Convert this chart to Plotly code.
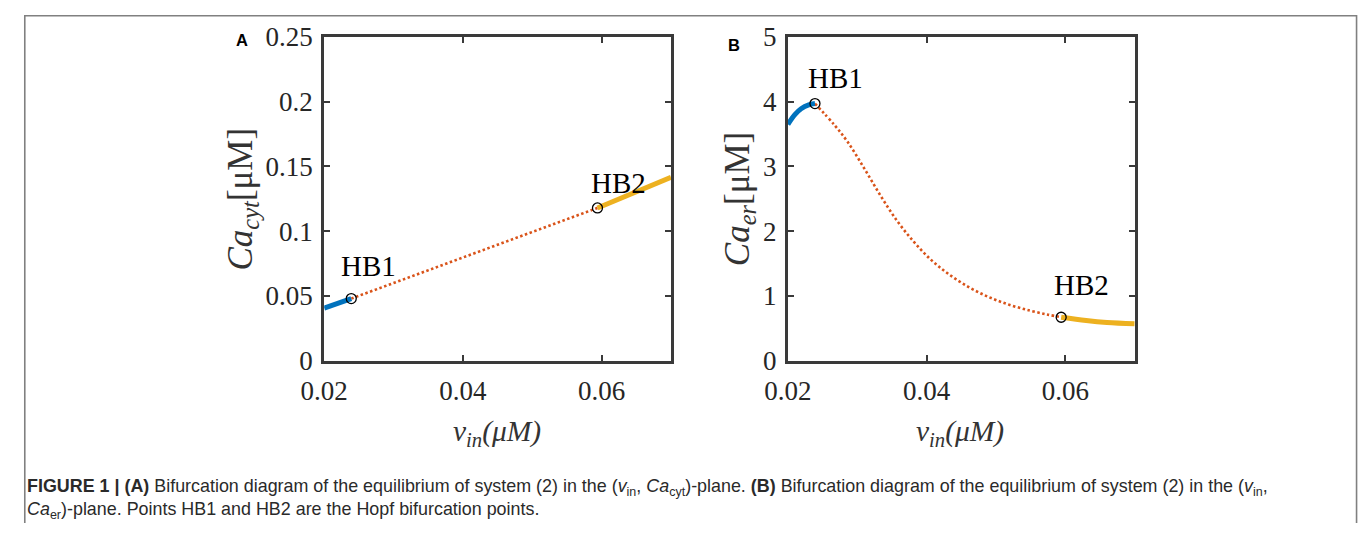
import plotly.graph_objects as go

W, H = 1362, 538

# ---- Panel A data (v_in, Ca_cyt) ----
a_stable1_v = [0.02, 0.0239]
a_stable1_c = [0.0405, 0.0479]
a_unstable_v = [0.0239, 0.0594]
a_unstable_c = [0.0479, 0.1179]
a_stable2_v = [0.0594, 0.07]
a_stable2_c = [0.1179, 0.1415]
a_hopf_v = [0.0239, 0.0594]
a_hopf_c = [0.0479, 0.1179]

# ---- Panel B data (v_in, Ca_er) ----
b_stable1_v = [0.02, 0.0210, 0.0219, 0.0230, 0.0239]
b_stable1_c = [3.65, 3.80, 3.89, 3.95, 3.97]
b_unstable_v = [0.0239, 0.0267, 0.0286, 0.0310, 0.0334, 0.0358, 0.0382, 0.0406,
                0.0430, 0.0460, 0.0490, 0.0520, 0.0550, 0.0575, 0.0594]
b_unstable_c = [3.97, 3.64, 3.38, 2.97, 2.54, 2.15, 1.83, 1.56,
                1.35, 1.14, 0.98, 0.86, 0.77, 0.71, 0.67]
b_stable2_v = [0.0594, 0.063, 0.066, 0.07]
b_stable2_c = [0.67, 0.62, 0.59, 0.57]
b_hopf_v = [0.0239, 0.0594]
b_hopf_c = [3.97, 0.67]

x_ticks = [0.02, 0.04, 0.06]
x_ticklabels = ["0.02", "0.04", "0.06"]
a_yticks = [0, 0.05, 0.1, 0.15, 0.2, 0.25]
a_yticklabels = ["0", "0.05", "0.1", "0.15", "0.2", "0.25"]
b_yticks = [0, 1, 2, 3, 4, 5]
b_yticklabels = ["0", "1", "2", "3", "4", "5"]

BLUE = "#0072BD"
RED = "#D95319"
YEL = "#EDB120"
AX = "#3a3a3a"
SERIF = "Liberation Serif, Times New Roman, serif"
SANS = "Liberation Sans, Arial, sans-serif"

# the returned picture places the page at (22.6, 13) scaled (0.983, 0.948);
# these helpers map target picture pixels to paper fractions
def px(x):
    return ((x - 22.6) / 0.983) / W

def py(y):
    return 1 - ((y - 13.0) / 0.948) / H

fig = go.Figure()

def add_panel(xa, ya, s1v, s1c, uv, uc, s2v, s2c, hv, hc, spline):
    shape = "spline" if spline else "linear"
    fig.add_trace(go.Scatter(x=uv, y=uc, mode="lines", xaxis=xa, yaxis=ya,
                             line=dict(color=RED, width=2.6, dash="2.5px,2.5px", shape=shape),
                             showlegend=False, hoverinfo="skip"))
    fig.add_trace(go.Scatter(x=s1v, y=s1c, mode="lines", xaxis=xa, yaxis=ya,
                             line=dict(color=BLUE, width=5, shape=shape),
                             showlegend=False, hoverinfo="skip"))
    fig.add_trace(go.Scatter(x=s2v, y=s2c, mode="lines", xaxis=xa, yaxis=ya,
                             line=dict(color=YEL, width=5, shape=shape),
                             showlegend=False, hoverinfo="skip"))
    fig.add_trace(go.Scatter(x=hv, y=hc, mode="markers", xaxis=xa, yaxis=ya,
                             marker=dict(symbol="circle-open", size=10,
                                         color="black", line=dict(width=1.3, color="black")),
                             showlegend=False, hoverinfo="skip"))

add_panel("x", "y", a_stable1_v, a_stable1_c, a_unstable_v, a_unstable_c,
          a_stable2_v, a_stable2_c, a_hopf_v, a_hopf_c, False)
add_panel("x2", "y2", b_stable1_v, b_stable1_c, b_unstable_v, b_unstable_c,
          b_stable2_v, b_stable2_c, b_hopf_v, b_hopf_c, True)

axis_common = dict(showline=True, linecolor=AX, linewidth=2.9, mirror="ticks",
                   ticks="inside", ticklen=6, tickwidth=2.3, tickcolor=AX,
                   showgrid=False, zeroline=False,
                   tickfont=dict(family=SERIF, size=27, color="#262626"))

ydom = [py(360), py(35)]
fig.update_layout(
    width=W, height=H,
    margin=dict(l=0, r=0, t=0, b=0),
    paper_bgcolor="white", plot_bgcolor="white",
    xaxis=dict(domain=[px(323), px(670)], range=[0.02, 0.07], tickvals=x_ticks,
               ticktext=x_ticklabels, anchor="y", ticklabelstandoff=4, **axis_common),
    yaxis=dict(domain=ydom, range=[0, 0.25], tickvals=a_yticks,
               ticktext=a_yticklabels, anchor="x", ticklabelstandoff=3, **axis_common),
    xaxis2=dict(domain=[px(787), px(1134)], range=[0.02, 0.07], tickvals=x_ticks,
                ticktext=x_ticklabels, anchor="y2", ticklabelstandoff=4, **axis_common),
    yaxis2=dict(domain=ydom, range=[0, 5], tickvals=b_yticks,
                ticktext=b_yticklabels, anchor="x2", ticklabelstandoff=3, **axis_common),
)

ann = []
def text(x, y, t, size, family=SERIF, color="black", angle=0, xanchor="center", yanchor="middle"):
    ann.append(dict(x=px(x), y=py(y), xref="paper", yref="paper", text=t,
                    showarrow=False, textangle=angle, xanchor=xanchor, yanchor=yanchor,
                    font=dict(family=family, size=size, color=color)))

# Hopf labels
text(367, 265, "HB1", 29)
text(617, 182, "HB2", 29)
text(835, 76, "HB1", 29)
text(1081, 284, "HB2", 29)

# panel letters
text(241, 38, "<b>A</b>", 16.5, family=SANS)
text(733, 43, "<b>B</b>", 16.5, family=SANS)

# axis titles
text(241, 198, "<i>Ca</i><sub><i>cyt</i></sub>[μM]", 35, color="#333333", angle=-90)
text(738, 198, "<i>Ca</i><sub><i>er</i></sub>[μM]", 35, color="#333333", angle=-90)
text(496, 433, "<i>v</i><sub><i>in</i></sub><i>(μM)</i>", 29.5, color="#333333")
text(959, 433, "<i>v</i><sub><i>in</i></sub><i>(μM)</i>", 29.5, color="#333333")

# caption
cap1 = ("<b>FIGURE 1 | (A)</b> Bifurcation diagram of the equilibrium of system (2) in the "
        "(<i>v</i><sub>in</sub>, <i>Ca</i><sub>cyt</sub>)-plane. <b>(B)</b> Bifurcation diagram "
        "of the equilibrium of system (2) in the (<i>v</i><sub>in</sub>,")
cap2 = "<i>Ca</i><sub>er</sub>)-plane. Points HB1 and HB2 are the Hopf bifurcation points."
text(23.2, 487, cap1, 17.9, family=SANS, color="#2a2a2a", xanchor="left")
text(23.2, 510, cap2, 17.9, family=SANS, color="#2a2a2a", xanchor="left")

fig.update_layout(annotations=ann)

# outer frame: left, top and right edges, open at the bottom of the picture
fx0, fx1, fy = 0.8 / W, px(1356), 1 - 0.8 / H
fig.add_shape(type="path", xref="paper", yref="paper",
              path=f"M {fx0},0 L {fx0},{fy} L {fx1},{fy} L {fx1},0",
              line=dict(color="#808080", width=1.6), layer="below")

fig.write_html("out.html", config={"displayModeBar": False},
               post_script="document.body.style.margin='0';document.body.style.overflow='hidden';")
